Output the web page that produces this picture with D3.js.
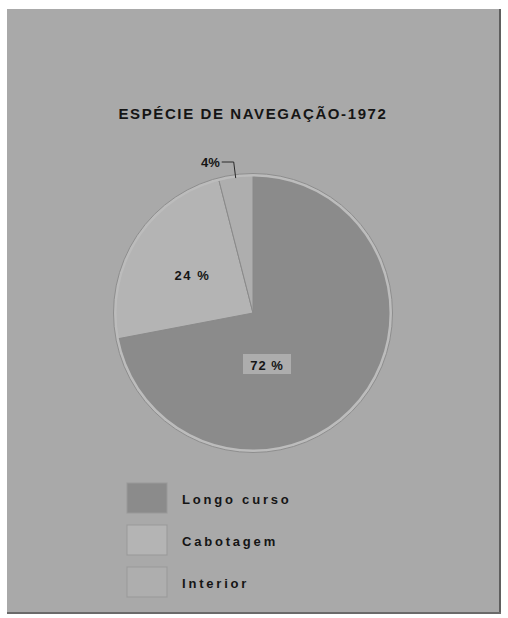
<!DOCTYPE html>
<html>
<head>
<meta charset="utf-8">
<script src="https://cdn.jsdelivr.net/npm/d3@7"></script>
<style>
  html, body { margin: 0; padding: 0; background: #ffffff; }
  svg { display: block; }
  text { font-family: "Liberation Sans", Arial, sans-serif; font-weight: bold; fill: #151515; }
</style>
</head>
<body>
<script>
// Navigation type shares, 1972
const categories = ["Longo curso", "Cabotagem", "Interior"];
const shares = [72, 24, 4];
const sliceLabels = ["72 %", "24 %", "4%"];
const title = "ESPÉCIE DE NAVEGAÇÃO-1972";

const W = 508, H = 618;
const svg = d3.select("body").append("svg").attr("width", W).attr("height", H);

// panel
svg.append("rect").attr("x", 7).attr("y", 9).attr("width", 493).attr("height", 604)
  .attr("fill", "#a9a9a9");
svg.append("line").attr("x1", 500).attr("x2", 500).attr("y1", 9).attr("y2", 613)
  .attr("stroke", "#5e5e5e").attr("stroke-width", 2);
svg.append("line").attr("x1", 7).attr("x2", 501).attr("y1", 613).attr("y2", 613)
  .attr("stroke", "#6a6a6a").attr("stroke-width", 2);

svg.append("text").attr("x", 253).attr("y", 119).attr("text-anchor", "middle")
  .style("font-size", "15px").style("letter-spacing", "1.6px").text(title);

const color = d3.scaleOrdinal().domain(categories).range(["#8b8b8b", "#b4b4b4", "#aeaeae"]);

const cx = 253, cy = 313, R = 138;
const pie = d3.pie().sort(null).value(d => d.v);
const data = pie(categories.map((c, i) => ({ c, v: shares[i], label: sliceLabels[i] })));
const arc = d3.arc().innerRadius(0).outerRadius(R);

const g = svg.append("g").attr("transform", `translate(${cx},${cy})`);
g.selectAll("path.slice").data(data).join("path").attr("class", "slice")
  .attr("d", arc).attr("fill", d => color(d.data.c))
  .attr("stroke", "#8a8a8a").attr("stroke-width", 1);
g.append("circle").attr("r", R).attr("fill", "none").attr("stroke", "#bcbcbc").attr("stroke-width", 3);
g.append("circle").attr("r", R + 1.5).attr("fill", "none").attr("stroke", "#8e8e8e").attr("stroke-width", 1);

const big = data[0], mid = data[1], small = data[2];

// large slice label sits just below-right of the centre, on a pale patch
const bx = 14, by = 52;
g.append("rect").attr("x", bx - 24).attr("y", by - 11).attr("width", 48).attr("height", 20)
  .attr("fill", "#c4c4c4").attr("opacity", 0.6);
g.append("text").attr("x", bx).attr("y", by + 5).attr("text-anchor", "middle")
  .style("font-size", "13px").style("letter-spacing", "1px").text(big.data.label);

// middle slice label at its centroid
const mp = d3.arc().innerRadius(R * 0.52).outerRadius(R * 0.52).centroid(mid);
g.append("text").attr("x", mp[0]).attr("y", mp[1] + 5).attr("text-anchor", "middle")
  .style("font-size", "13px").style("letter-spacing", "1.5px").text(mid.data.label);

// small slice: label outside with leader
const edge = d3.arc().innerRadius(R).outerRadius(R).centroid(small);
const lx = edge[0] - 2, ly = -R - 13;
g.append("path").attr("d", `M${lx - 12},${ly}L${lx},${ly}L${edge[0]},${edge[1] + 2}`)
  .attr("fill", "none").attr("stroke", "#2a2a2a").attr("stroke-width", 1);
g.append("text").attr("x", lx - 14).attr("y", ly + 5).attr("text-anchor", "end")
  .style("font-size", "13px").text(small.data.label);

// legend
const lg = svg.append("g").attr("transform", "translate(127,483)");
const rows = lg.selectAll("g").data(categories).join("g")
  .attr("transform", (d, i) => `translate(0,${i * 42})`);
rows.append("rect").attr("width", 40).attr("height", 30).attr("fill", d => color(d))
  .attr("stroke", "#999").attr("stroke-width", 1);
rows.append("text").attr("x", 55).attr("y", 21)
  .style("font-size", "13px").style("letter-spacing", "2.8px").text(d => d);
</script>
</body>
</html>
